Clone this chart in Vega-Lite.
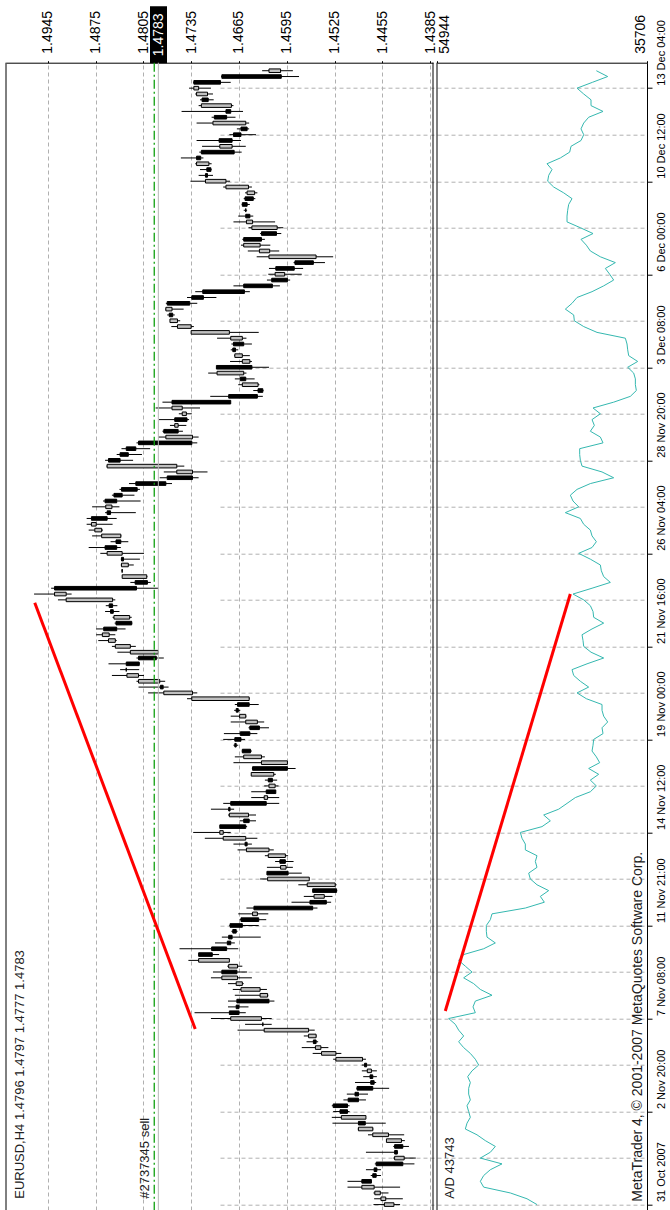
{
  "$schema": "https://vega.github.io/schema/vega-lite/v6.json",
  "autosize": {"type": "none"},
  "width": 641,
  "height": 1147.3,
  "padding": {"left": 6, "top": 62.7, "right": 23, "bottom": 0},
  "background": "white",
  "config": {
    "view": {"stroke": null},
    "axis": {"labelFont": "Liberation Sans", "labelColor": "#000", "domainColor": "#000", "tickColor": "#000", "labelFlush": false, "labelOverlap": false, "labelBound": false},
    "axisY": {"labelFont": "Liberation Sans"},
    "axisRight": {"labelFont": "Liberation Sans"},
    "text": {"font": "Liberation Sans", "color": "#000"}
  },
  "datasets": {
    "bars": [
      {"i":0,"o":1.4438,"h":1.4468,"l":1.4429,"c":1.4452,"ad":45782},
      {"i":1,"o":1.4450,"h":1.4467,"l":1.4425,"c":1.4457,"ad":46698},
      {"i":2,"o":1.4458,"h":1.4468,"l":1.4446,"c":1.4466,"ad":48225},
      {"i":3,"o":1.4467,"h":1.4506,"l":1.4429,"c":1.4485,"ad":50668},
      {"i":4,"o":1.4485,"h":1.4506,"l":1.4471,"c":1.4471,"ad":50974},
      {"i":5,"o":1.4469,"h":1.4472,"l":1.4457,"c":1.4464,"ad":50668},
      {"i":6,"o":1.4467,"h":1.4479,"l":1.4457,"c":1.4463,"ad":50058},
      {"i":7,"o":1.4464,"h":1.4466,"l":1.4408,"c":1.4425,"ad":48989},
      {"i":8,"o":1.4423,"h":1.4439,"l":1.4406,"c":1.4437,"ad":50974},
      {"i":9,"o":1.4437,"h":1.4479,"l":1.4432,"c":1.4433,"ad":50058},
      {"i":10,"o":1.4437,"h":1.4439,"l":1.4416,"c":1.4425,"ad":49600},
      {"i":11,"o":1.4427,"h":1.4449,"l":1.4422,"c":1.4449,"ad":50516},
      {"i":12,"o":1.4446,"h":1.4476,"l":1.4423,"c":1.4469,"ad":51279},
      {"i":13,"o":1.4469,"h":1.4491,"l":1.4468,"c":1.4490,"ad":52348},
      {"i":14,"o":1.4490,"h":1.4528,"l":1.4450,"c":1.4480,"ad":52195},
      {"i":15,"o":1.4479,"h":1.4529,"l":1.4479,"c":1.4515,"ad":51890},
      {"i":16,"o":1.4517,"h":1.4527,"l":1.4503,"c":1.4506,"ad":52043},
      {"i":17,"o":1.4527,"h":1.4529,"l":1.4503,"c":1.4506,"ad":52195},
      {"i":18,"o":1.4505,"h":1.4512,"l":1.4479,"c":1.4490,"ad":51890},
      {"i":19,"o":1.4495,"h":1.4507,"l":1.4476,"c":1.4490,"ad":52043},
      {"i":20,"o":1.4492,"h":1.4493,"l":1.4445,"c":1.4469,"ad":52043},
      {"i":21,"o":1.4472,"h":1.4495,"l":1.4464,"c":1.4467,"ad":51890},
      {"i":22,"o":1.4473,"h":1.4483,"l":1.4463,"c":1.4469,"ad":52134},
      {"i":23,"o":1.4471,"h":1.4485,"l":1.4463,"c":1.4477,"ad":51737},
      {"i":24,"o":1.4481,"h":1.4485,"l":1.4472,"c":1.4478,"ad":51127},
      {"i":25,"o":1.4484,"h":1.4527,"l":1.4479,"c":1.4523,"ad":51432},
      {"i":26,"o":1.4523,"h":1.4557,"l":1.4515,"c":1.4544,"ad":51890},
      {"i":27,"o":1.4545,"h":1.4573,"l":1.4534,"c":1.4553,"ad":52501},
      {"i":28,"o":1.4556,"h":1.4566,"l":1.4549,"c":1.4552,"ad":52959},
      {"i":29,"o":1.4552,"h":1.4570,"l":1.4551,"c":1.4563,"ad":52501},
      {"i":30,"o":1.4563,"h":1.4667,"l":1.4554,"c":1.4628,"ad":52959},
      {"i":31,"o":1.4630,"h":1.4656,"l":1.4617,"c":1.4630,"ad":53264},
      {"i":32,"o":1.4632,"h":1.4706,"l":1.4617,"c":1.4677,"ad":53875},
      {"i":33,"o":1.4679,"h":1.4730,"l":1.4655,"c":1.4665,"ad":51432},
      {"i":34,"o":1.4669,"h":1.4681,"l":1.4651,"c":1.4665,"ad":51646},
      {"i":35,"o":1.4668,"h":1.4681,"l":1.4613,"c":1.4621,"ad":51432},
      {"i":36,"o":1.4623,"h":1.4671,"l":1.4622,"c":1.4634,"ad":49905},
      {"i":37,"o":1.4634,"h":1.4674,"l":1.4624,"c":1.4662,"ad":50974},
      {"i":38,"o":1.4660,"h":1.4681,"l":1.4658,"c":1.4669,"ad":51585},
      {"i":39,"o":1.4667,"h":1.4706,"l":1.4646,"c":1.4690,"ad":52501},
      {"i":40,"o":1.4690,"h":1.4703,"l":1.4653,"c":1.4668,"ad":51737},
      {"i":41,"o":1.4667,"h":1.4682,"l":1.4660,"c":1.4680,"ad":52348},
      {"i":42,"o":1.4679,"h":1.4739,"l":1.4679,"c":1.4724,"ad":52959},
      {"i":43,"o":1.4724,"h":1.4724,"l":1.4694,"c":1.4704,"ad":52501},
      {"i":44,"o":1.4705,"h":1.4752,"l":1.4666,"c":1.4683,"ad":50668},
      {"i":45,"o":1.4682,"h":1.4700,"l":1.4671,"c":1.4677,"ad":49600},
      {"i":46,"o":1.4680,"h":1.4690,"l":1.4633,"c":1.4675,"ad":50363},
      {"i":47,"o":1.4674,"h":1.4676,"l":1.4667,"c":1.4669,"ad":50424},
      {"i":48,"o":1.4678,"h":1.4679,"l":1.4636,"c":1.4660,"ad":50424},
      {"i":49,"o":1.4662,"h":1.4664,"l":1.4625,"c":1.4636,"ad":50058},
      {"i":50,"o":1.4638,"h":1.4666,"l":1.4622,"c":1.4645,"ad":49905},
      {"i":51,"o":1.4643,"h":1.4654,"l":1.4550,"c":1.4557,"ad":46851},
      {"i":52,"o":1.4561,"h":1.4588,"l":1.4530,"c":1.4537,"ad":45110},
      {"i":53,"o":1.4540,"h":1.4570,"l":1.4528,"c":1.4555,"ad":45477},
      {"i":54,"o":1.4557,"h":1.4557,"l":1.4521,"c":1.4522,"ad":44713},
      {"i":55,"o":1.4524,"h":1.4578,"l":1.4522,"c":1.4565,"ad":45782},
      {"i":56,"o":1.4562,"h":1.4634,"l":1.4562,"c":1.4623,"ad":46393},
      {"i":57,"o":1.4624,"h":1.4624,"l":1.4573,"c":1.4593,"ad":46546},
      {"i":58,"o":1.4596,"h":1.4624,"l":1.4586,"c":1.4604,"ad":45782},
      {"i":59,"o":1.4605,"h":1.4612,"l":1.4585,"c":1.4597,"ad":45935},
      {"i":60,"o":1.4597,"h":1.4627,"l":1.4593,"c":1.4622,"ad":45782},
      {"i":61,"o":1.4621,"h":1.4667,"l":1.4614,"c":1.4654,"ad":46851},
      {"i":62,"o":1.4656,"h":1.4673,"l":1.4646,"c":1.4653,"ad":46851},
      {"i":63,"o":1.4655,"h":1.4715,"l":1.4638,"c":1.4688,"ad":47156},
      {"i":64,"o":1.4688,"h":1.4732,"l":1.4677,"c":1.4693,"ad":47309},
      {"i":65,"o":1.4693,"h":1.4693,"l":1.4653,"c":1.4655,"ad":45324},
      {"i":66,"o":1.4658,"h":1.4664,"l":1.4640,"c":1.4650,"ad":44560},
      {"i":67,"o":1.4651,"h":1.4681,"l":1.4640,"c":1.4679,"ad":45171},
      {"i":68,"o":1.4680,"h":1.4706,"l":1.4672,"c":1.4678,"ad":43797},
      {"i":69,"o":1.4677,"h":1.4688,"l":1.4606,"c":1.4625,"ad":43033},
      {"i":70,"o":1.4623,"h":1.4647,"l":1.4606,"c":1.4628,"ad":42270},
      {"i":71,"o":1.4625,"h":1.4647,"l":1.4611,"c":1.4611,"ad":40896},
      {"i":72,"o":1.4612,"h":1.4628,"l":1.4607,"c":1.4621,"ad":40346},
      {"i":73,"o":1.4622,"h":1.4627,"l":1.4609,"c":1.4616,"ad":40896},
      {"i":74,"o":1.4614,"h":1.4647,"l":1.4611,"c":1.4647,"ad":40132},
      {"i":75,"o":1.4645,"h":1.4646,"l":1.4582,"c":1.4594,"ad":41048},
      {"i":76,"o":1.4594,"h":1.4673,"l":1.4594,"c":1.4632,"ad":40041},
      {"i":77,"o":1.4632,"h":1.4671,"l":1.4627,"c":1.4658,"ad":40346},
      {"i":78,"o":1.4660,"h":1.4661,"l":1.4646,"c":1.4648,"ad":40743},
      {"i":79,"o":1.4671,"h":1.4673,"l":1.4666,"c":1.4669,"ad":40651},
      {"i":80,"o":1.4671,"h":1.4688,"l":1.4656,"c":1.4662,"ad":40590},
      {"i":81,"o":1.4663,"h":1.4687,"l":1.4638,"c":1.4649,"ad":39735},
      {"i":82,"o":1.4649,"h":1.4651,"l":1.4621,"c":1.4635,"ad":39827},
      {"i":83,"o":1.4638,"h":1.4677,"l":1.4628,"c":1.4655,"ad":39308},
      {"i":84,"o":1.4655,"h":1.4677,"l":1.4654,"c":1.4664,"ad":39674},
      {"i":85,"o":1.4669,"h":1.4672,"l":1.4663,"c":1.4666,"ad":39827},
      {"i":86,"o":1.4667,"h":1.4671,"l":1.4636,"c":1.4650,"ad":39827},
      {"i":87,"o":1.4650,"h":1.4741,"l":1.4649,"c":1.4734,"ad":41262},
      {"i":88,"o":1.4733,"h":1.4798,"l":1.4726,"c":1.4775,"ad":42117},
      {"i":89,"o":1.4780,"h":1.4812,"l":1.4768,"c":1.4776,"ad":41048},
      {"i":90,"o":1.4781,"h":1.4815,"l":1.4773,"c":1.4812,"ad":41812},
      {"i":91,"o":1.4812,"h":1.4851,"l":1.4804,"c":1.4829,"ad":42423},
      {"i":92,"o":1.4830,"h":1.4839,"l":1.4811,"c":1.4830,"ad":42575},
      {"i":93,"o":1.4830,"h":1.4856,"l":1.4810,"c":1.4811,"ad":41201},
      {"i":94,"o":1.4812,"h":1.4815,"l":1.4775,"c":1.4786,"ad":39674},
      {"i":95,"o":1.4783,"h":1.4843,"l":1.4782,"c":1.4824,"ad":40835},
      {"i":96,"o":1.4824,"h":1.4851,"l":1.4816,"c":1.4846,"ad":41506},
      {"i":97,"o":1.4846,"h":1.4871,"l":1.4844,"c":1.4856,"ad":41567},
      {"i":98,"o":1.4855,"h":1.4874,"l":1.4846,"c":1.4865,"ad":41659},
      {"i":99,"o":1.4863,"h":1.4874,"l":1.4831,"c":1.4844,"ad":40743},
      {"i":100,"o":1.4845,"h":1.4847,"l":1.4821,"c":1.4822,"ad":39674},
      {"i":101,"o":1.4825,"h":1.4850,"l":1.4822,"c":1.4848,"ad":40590},
      {"i":102,"o":1.4853,"h":1.4861,"l":1.4840,"c":1.4849,"ad":40651},
      {"i":103,"o":1.4855,"h":1.4860,"l":1.4843,"c":1.4850,"ad":40896},
      {"i":104,"o":1.4850,"h":1.4930,"l":1.4846,"c":1.4918,"ad":41506},
      {"i":105,"o":1.4918,"h":1.4965,"l":1.4910,"c":1.4935,"ad":42484},
      {"i":106,"o":1.4935,"h":1.4940,"l":1.4783,"c":1.4815,"ad":40743},
      {"i":107,"o":1.4817,"h":1.4824,"l":1.4794,"c":1.4799,"ad":39063},
      {"i":108,"o":1.4800,"h":1.4836,"l":1.4799,"c":1.4836,"ad":39674},
      {"i":109,"o":1.4836,"h":1.4837,"l":1.4835,"c":1.4836,"ad":39888},
      {"i":110,"o":1.4827,"h":1.4838,"l":1.4819,"c":1.4837,"ad":39979},
      {"i":111,"o":1.4837,"h":1.4838,"l":1.4810,"c":1.4834,"ad":40896},
      {"i":112,"o":1.4836,"h":1.4868,"l":1.4804,"c":1.4858,"ad":41965},
      {"i":113,"o":1.4861,"h":1.4885,"l":1.4838,"c":1.4844,"ad":40743},
      {"i":114,"o":1.4845,"h":1.4853,"l":1.4827,"c":1.4838,"ad":40346},
      {"i":115,"o":1.4838,"h":1.4880,"l":1.4837,"c":1.4866,"ad":40743},
      {"i":116,"o":1.4866,"h":1.4885,"l":1.4864,"c":1.4876,"ad":40896},
      {"i":117,"o":1.4874,"h":1.4888,"l":1.4850,"c":1.4881,"ad":41506},
      {"i":118,"o":1.4881,"h":1.4888,"l":1.4844,"c":1.4858,"ad":41812},
      {"i":119,"o":1.4858,"h":1.4861,"l":1.4816,"c":1.4853,"ad":43186},
      {"i":120,"o":1.4851,"h":1.4880,"l":1.4840,"c":1.4860,"ad":41965},
      {"i":121,"o":1.4861,"h":1.4864,"l":1.4809,"c":1.4844,"ad":42484},
      {"i":122,"o":1.4848,"h":1.4851,"l":1.4818,"c":1.4836,"ad":42728},
      {"i":123,"o":1.4837,"h":1.4840,"l":1.4810,"c":1.4814,"ad":42117},
      {"i":124,"o":1.4816,"h":1.4826,"l":1.4763,"c":1.4772,"ad":40896},
      {"i":125,"o":1.4770,"h":1.4781,"l":1.4724,"c":1.4733,"ad":38758},
      {"i":126,"o":1.4733,"h":1.4775,"l":1.4711,"c":1.4756,"ad":39827},
      {"i":127,"o":1.4756,"h":1.4859,"l":1.4745,"c":1.4858,"ad":41659},
      {"i":128,"o":1.4856,"h":1.4861,"l":1.4820,"c":1.4839,"ad":41812},
      {"i":129,"o":1.4839,"h":1.4844,"l":1.4807,"c":1.4827,"ad":41873},
      {"i":130,"o":1.4830,"h":1.4837,"l":1.4795,"c":1.4816,"ad":41873},
      {"i":131,"o":1.4812,"h":1.4815,"l":1.4726,"c":1.4734,"ad":39735},
      {"i":132,"o":1.4733,"h":1.4783,"l":1.4724,"c":1.4772,"ad":39979},
      {"i":133,"o":1.4775,"h":1.4777,"l":1.4747,"c":1.4754,"ad":40896},
      {"i":134,"o":1.4754,"h":1.4766,"l":1.4742,"c":1.4759,"ad":40529},
      {"i":135,"o":1.4759,"h":1.4782,"l":1.4738,"c":1.4741,"ad":40743},
      {"i":136,"o":1.4742,"h":1.4753,"l":1.4734,"c":1.4748,"ad":39979},
      {"i":137,"o":1.4748,"h":1.4787,"l":1.4722,"c":1.4763,"ad":40651},
      {"i":138,"o":1.4763,"h":1.4777,"l":1.4677,"c":1.4677,"ad":38758},
      {"i":139,"o":1.4680,"h":1.4707,"l":1.4630,"c":1.4638,"ad":37231},
      {"i":140,"o":1.4637,"h":1.4644,"l":1.4629,"c":1.4630,"ad":36681},
      {"i":141,"o":1.4637,"h":1.4666,"l":1.4635,"c":1.4660,"ad":36772},
      {"i":142,"o":1.4663,"h":1.4671,"l":1.4642,"c":1.4655,"ad":36772},
      {"i":143,"o":1.4658,"h":1.4710,"l":1.4654,"c":1.4697,"ad":36925},
      {"i":144,"o":1.4698,"h":1.4698,"l":1.4621,"c":1.4646,"ad":37475},
      {"i":145,"o":1.4649,"h":1.4678,"l":1.4646,"c":1.4660,"ad":36559},
      {"i":146,"o":1.4660,"h":1.4672,"l":1.4649,"c":1.4671,"ad":37384},
      {"i":147,"o":1.4674,"h":1.4677,"l":1.4666,"c":1.4670,"ad":37475},
      {"i":148,"o":1.4673,"h":1.4676,"l":1.4646,"c":1.4658,"ad":37536},
      {"i":149,"o":1.4660,"h":1.4697,"l":1.4654,"c":1.4677,"ad":37689},
      {"i":150,"o":1.4679,"h":1.4735,"l":1.4636,"c":1.4735,"ad":40285},
      {"i":151,"o":1.4735,"h":1.4764,"l":1.4731,"c":1.4755,"ad":41506},
      {"i":152,"o":1.4755,"h":1.4766,"l":1.4751,"c":1.4766,"ad":42362},
      {"i":153,"o":1.4767,"h":1.4770,"l":1.4759,"c":1.4762,"ad":42423},
      {"i":154,"o":1.4763,"h":1.4773,"l":1.4746,"c":1.4772,"ad":43186},
      {"i":155,"o":1.4770,"h":1.4772,"l":1.4726,"c":1.4737,"ad":42575},
      {"i":156,"o":1.4734,"h":1.4741,"l":1.4698,"c":1.4717,"ad":42117},
      {"i":157,"o":1.4718,"h":1.4729,"l":1.4649,"c":1.4657,"ad":40743},
      {"i":158,"o":1.4658,"h":1.4673,"l":1.4605,"c":1.4616,"ad":39674},
      {"i":159,"o":1.4617,"h":1.4624,"l":1.4590,"c":1.4594,"ad":38758},
      {"i":160,"o":1.4598,"h":1.4622,"l":1.4573,"c":1.4612,"ad":39124},
      {"i":161,"o":1.4611,"h":1.4621,"l":1.4571,"c":1.4584,"ad":39522},
      {"i":162,"o":1.4583,"h":1.4585,"l":1.4539,"c":1.4556,"ad":38605},
      {"i":163,"o":1.4552,"h":1.4639,"l":1.4527,"c":1.4621,"ad":39979},
      {"i":164,"o":1.4620,"h":1.4652,"l":1.4606,"c":1.4635,"ad":40896},
      {"i":165,"o":1.4634,"h":1.4662,"l":1.4619,"c":1.4658,"ad":41262},
      {"i":166,"o":1.4658,"h":1.4660,"l":1.4627,"c":1.4632,"ad":41751},
      {"i":167,"o":1.4632,"h":1.4634,"l":1.4603,"c":1.4610,"ad":40651},
      {"i":168,"o":1.4609,"h":1.4651,"l":1.4600,"c":1.4646,"ad":41812},
      {"i":169,"o":1.4645,"h":1.4673,"l":1.4612,"c":1.4654,"ad":43033},
      {"i":170,"o":1.4655,"h":1.4666,"l":1.4644,"c":1.4649,"ad":43033},
      {"i":171,"o":1.4655,"h":1.4658,"l":1.4653,"c":1.4655,"ad":42972},
      {"i":172,"o":1.4660,"h":1.4661,"l":1.4649,"c":1.4653,"ad":42881},
      {"i":173,"o":1.4656,"h":1.4658,"l":1.4641,"c":1.4644,"ad":42575},
      {"i":174,"o":1.4642,"h":1.4656,"l":1.4638,"c":1.4653,"ad":43339},
      {"i":175,"o":1.4651,"h":1.4688,"l":1.4646,"c":1.4684,"ad":44255},
      {"i":176,"o":1.4684,"h":1.4736,"l":1.4678,"c":1.4714,"ad":44805},
      {"i":177,"o":1.4714,"h":1.4724,"l":1.4703,"c":1.4711,"ad":44713},
      {"i":178,"o":1.4712,"h":1.4722,"l":1.4705,"c":1.4706,"ad":44408},
      {"i":179,"o":1.4709,"h":1.4729,"l":1.4705,"c":1.4727,"ad":44866},
      {"i":180,"o":1.4727,"h":1.4750,"l":1.4717,"c":1.4721,"ad":43644},
      {"i":181,"o":1.4720,"h":1.4723,"l":1.4661,"c":1.4672,"ad":42789},
      {"i":182,"o":1.4675,"h":1.4719,"l":1.4655,"c":1.4693,"ad":42667},
      {"i":183,"o":1.4694,"h":1.4727,"l":1.4662,"c":1.4675,"ad":41751},
      {"i":184,"o":1.4673,"h":1.4679,"l":1.4640,"c":1.4662,"ad":41506},
      {"i":185,"o":1.4662,"h":1.4668,"l":1.4650,"c":1.4653,"ad":41751},
      {"i":186,"o":1.4655,"h":1.4727,"l":1.4650,"c":1.4703,"ad":41506},
      {"i":187,"o":1.4701,"h":1.4705,"l":1.4670,"c":1.4683,"ad":41048},
      {"i":188,"o":1.4684,"h":1.4749,"l":1.4659,"c":1.4677,"ad":39735},
      {"i":189,"o":1.4676,"h":1.4724,"l":1.4673,"c":1.4720,"ad":40835},
      {"i":190,"o":1.4719,"h":1.4722,"l":1.4702,"c":1.4710,"ad":40835},
      {"i":191,"o":1.4711,"h":1.4729,"l":1.4703,"c":1.4727,"ad":41506},
      {"i":192,"o":1.4724,"h":1.4738,"l":1.4706,"c":1.4731,"ad":42117},
      {"i":193,"o":1.4731,"h":1.4732,"l":1.4677,"c":1.4692,"ad":40712},
      {"i":194,"o":1.4690,"h":1.4691,"l":1.4577,"c":1.4603,"ad":39308},
      {"i":195,"o":1.4604,"h":1.4631,"l":1.4586,"c":1.4621,"ad":40346}
    ],
    "tl": [{"i":30.2,"p":1.4729},{"i":103.5,"p":1.4964}],
    "adtl": [{"i":33.3,"ad":54184},{"i":105,"ad":42732}]
  },
  "layer": [
    {
      "layer": [
        {
          "data": {"name": "bars"},
          "mark": {"type": "rule", "color": "#000", "strokeWidth": 1},
          "encoding": {
            "x": {"field": "l", "type": "quantitative",
                  "scale": {"domain": [1.43808, 1.50061], "range": [427, 0], "nice": false, "zero": false},
                  "axis": {"orient": "top", "values": [1.4945,1.4875,1.4805,1.4735,1.4665,1.4595,1.4525,1.4455,1.4385], "format": ".4f",
                           "labelAngle": 270, "labelAlign": "left", "labelBaseline": "middle", "labelFontSize": 14, "labelFont": "Liberation Sans",
                           "tickSize": 2, "labelPadding": 7.4, "grid": true, "gridDash": [4,3], "gridColor": "#b0b0b0", "title": null}},
            "x2": {"field": "h"},
            "y": {"field": "i", "type": "quantitative",
                  "scale": {"domain": [-0.07, 195.52], "nice": false, "zero": false},
                  "axis": {"orient": "right", "values": [0,16,32,48,64,80,96,112,128,144,160,176,192],
                           "labelExpr": "['31 Oct 2007','2 Nov 20:00','7 Nov 08:00','11 Nov 21:00','14 Nov 12:00','19 Nov 00:00','21 Nov 16:00','26 Nov 04:00','28 Nov 20:00','3 Dec 08:00','6 Dec 00:00','10 Dec 12:00','13 Dec 04:00'][round(datum.value / 16)]",
                           "labelAngle": 270, "labelAlign": "left", "labelBaseline": "middle", "labelFontSize": 11, "labelFont": "Liberation Sans",
                           "labelPadding": 9, "labelOffset": -3, "tickSize": 5,
                           "grid": false, "title": null}}
          }
        },
        {
          "data": {"name": "bars"},
          "mark": {"type": "bar", "orient": "horizontal", "size": 3.6, "stroke": "#000", "strokeWidth": 1},
          "encoding": {
            "x": {"field": "o", "type": "quantitative", "scale": {"domain": [1.43808, 1.50061], "range": [427, 0], "nice": false, "zero": false}, "axis": null},
            "x2": {"field": "c"},
            "y": {"field": "i", "type": "quantitative", "scale": {"domain": [-0.07, 195.52], "nice": false, "zero": false},
                  "axis": {"orient": "right", "values": [0,8,16,24,32,40,48,56,64,72,80,88,96,104,112,120,128,136,144,152,160,168,176,184,192],
                           "grid": true, "gridDash": [4,3], "gridColor": "#b0b0b0", "ticks": false, "labels": false, "domain": false, "title": null}},
            "color": {"condition": {"test": "datum.c > datum.o", "value": "#c0c0c0"}, "value": "#000000"}
          }
        },
        {
          "data": {"values": [{"bid": 1.4783}]},
          "mark": {"type": "rule", "color": "#b8b8b8", "strokeWidth": 1},
          "encoding": {
            "x": {"field": "bid", "type": "quantitative", "scale": {"domain": [1.43808, 1.50061], "range": [427, 0], "nice": false, "zero": false},
                  "axis": {"orient": "top", "values": [1.4783], "format": ".4f", "labelAngle": 270, "labelAlign": "left", "labelBaseline": "middle",
                           "labelFontSize": 14, "labelFont": "Liberation Sans", "labelColor": "#ffffff", "tickSize": 57, "tickWidth": 17, "tickColor": "#000000",
                           "labelPadding": -50, "domain": false, "grid": false, "title": null}}
          }
        },
        {
          "data": {"values": [{"p": 1.4789, "t": "#2737345 sell"}]},
          "layer": [
            {
              "mark": {"type": "rule", "color": "#10a010", "strokeWidth": 1.3, "strokeDash": [9,3,2,3]},
              "encoding": {
                "x": {"field": "p", "type": "quantitative", "scale": {"domain": [1.43808, 1.50061], "range": [427, 0], "nice": false, "zero": false}, "axis": null}
              }
            },
            {
              "mark": {"type": "text", "angle": 270, "align": "left", "baseline": "middle", "dy": -9, "fontSize": 13, "color": "#202020"},
              "encoding": {
                "x": {"field": "p", "type": "quantitative", "scale": {"domain": [1.43808, 1.50061], "range": [427, 0], "nice": false, "zero": false}, "axis": null},
                "y": {"datum": 1, "type": "quantitative", "scale": {"domain": [-0.07, 195.52], "nice": false, "zero": false}, "axis": null},
                "text": {"field": "t"}
              }
            }
          ]
        },
        {
          "data": {"values": [{"t": "EURUSD,H4  1.4796 1.4797 1.4777 1.4783"}]},
          "mark": {"type": "text", "angle": 270, "align": "left", "baseline": "middle", "fontSize": 13, "color": "#202020"},
          "encoding": {
            "x": {"datum": 1.4985, "type": "quantitative", "scale": {"domain": [1.43808, 1.50061], "range": [427, 0], "nice": false, "zero": false}, "axis": null},
            "y": {"datum": 1, "type": "quantitative", "scale": {"domain": [-0.07, 195.52], "nice": false, "zero": false}, "axis": null},
            "text": {"field": "t"}
          }
        },
        {
          "data": {"name": "tl"},
          "mark": {"type": "line", "color": "#ff0000", "strokeWidth": 3},
          "encoding": {
            "x": {"field": "p", "type": "quantitative", "scale": {"domain": [1.43808, 1.50061], "range": [427, 0], "nice": false, "zero": false}, "axis": null},
            "y": {"field": "i", "type": "quantitative", "scale": {"domain": [-0.07, 195.52], "nice": false, "zero": false}, "axis": null},
            "order": {"field": "i"}
          }
        },
        {
          "data": {"values": [{}]},
          "mark": {"type": "rule", "color": "#000", "strokeWidth": 1},
          "encoding": {
            "x": {"datum": 1.50061, "type": "quantitative", "scale": {"domain": [1.43808, 1.50061], "range": [427, 0], "nice": false, "zero": false}, "axis": null}
          }
        },
        {
          "data": {"values": [{}]},
          "mark": {"type": "rule", "color": "#000", "strokeWidth": 1},
          "encoding": {
            "x": {"datum": 1.43808, "type": "quantitative", "scale": {"domain": [1.43808, 1.50061], "range": [427, 0], "nice": false, "zero": false}, "axis": null}
          }
        }
      ],
      "resolve": {"axis": {"x": "independent", "y": "independent"}}
    },
    {
      "layer": [
        {
          "data": {"name": "bars"},
          "mark": {"type": "line", "color": "#35b8b0", "strokeWidth": 1},
          "encoding": {
            "x": {"field": "ad", "type": "quantitative", "scale": {"domain": [35706, 54944], "range": [641, 431], "nice": false, "zero": false},
                  "axis": {"orient": "top", "values": [54944], "format": "d", "labelAngle": 270, "labelAlign": "left", "labelBaseline": "top",
                           "labelFontSize": 14, "labelFont": "Liberation Sans", "tickSize": 2, "labelPadding": 7.4, "grid": false, "title": null}},
            "y": {"field": "i", "type": "quantitative", "scale": {"domain": [-0.07, 195.52], "nice": false, "zero": false}, "axis": null},
            "order": {"field": "i"}
          }
        },
        {
          "data": {"name": "adtl"},
          "mark": {"type": "line", "color": "#ff0000", "strokeWidth": 3},
          "encoding": {
            "x": {"field": "ad", "type": "quantitative", "scale": {"domain": [35706, 54944], "range": [641, 431], "nice": false, "zero": false}, "axis": null},
            "y": {"field": "i", "type": "quantitative", "scale": {"domain": [-0.07, 195.52], "nice": false, "zero": false}, "axis": null},
            "order": {"field": "i"}
          }
        },
        {
          "data": {"values": [{}]},
          "mark": {"type": "rule", "color": "#000", "strokeWidth": 1},
          "encoding": {
            "x": {"datum": 54944, "type": "quantitative", "scale": {"domain": [35706, 54944], "range": [641, 431], "nice": false, "zero": false},
                  "axis": {"orient": "top", "values": [35706], "format": "d", "labelAngle": 270, "labelAlign": "left", "labelBaseline": "bottom",
                           "labelFontSize": 14, "labelFont": "Liberation Sans", "tickSize": 2, "labelPadding": 7.4, "grid": false, "domain": false, "title": null}}
          }
        },
        {
          "data": {"values": [{"t": "A/D 43743"}]},
          "mark": {"type": "text", "angle": 270, "align": "left", "baseline": "middle", "dy": 13, "fontSize": 13, "color": "#202020"},
          "encoding": {
            "x": {"datum": 54944, "type": "quantitative", "scale": {"domain": [35706, 54944], "range": [641, 431], "nice": false, "zero": false}, "axis": null},
            "y": {"datum": 1, "type": "quantitative", "scale": {"domain": [-0.07, 195.52], "nice": false, "zero": false}, "axis": null},
            "text": {"field": "t"}
          }
        },
        {
          "data": {"values": [{"t": "MetaTrader 4, © 2001-2007 MetaQuotes Software Corp."}]},
          "mark": {"type": "text", "angle": 270, "align": "left", "baseline": "middle", "dy": -9, "fontSize": 14, "color": "#202020"},
          "encoding": {
            "x": {"datum": 35706, "type": "quantitative", "scale": {"domain": [35706, 54944], "range": [641, 431], "nice": false, "zero": false}, "axis": null},
            "y": {"datum": 0.5, "type": "quantitative", "scale": {"domain": [-0.07, 195.52], "nice": false, "zero": false}, "axis": null},
            "text": {"field": "t"}
          }
        }
      ],
      "resolve": {"axis": {"x": "independent"}}
    }
  ],
  "resolve": {"scale": {"x": "independent"}}
}
